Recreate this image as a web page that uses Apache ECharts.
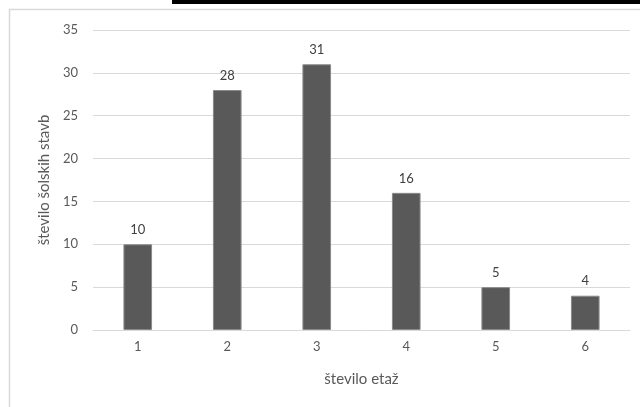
<!DOCTYPE html>
<html>
<head>
<meta charset="utf-8">
<script src="https://cdn.jsdelivr.net/npm/echarts@6/dist/echarts.min.js"></script>
<style>html,body{margin:0;padding:0;background:#fff;}#c{width:640px;height:407px;}</style>
</head>
<body>
<div id="c"></div>
<script>
const categories = ['1', '2', '3', '4', '5', '6'];
const values = [10, 28, 31, 16, 5, 4];
const yTicks = [0, 5, 10, 15, 20, 25, 30, 35];
const xAxisName = 'število etaž';
const yAxisName = 'število šolskih stavb';

const chart = echarts.init(document.getElementById('c'), null, {renderer: 'canvas'});
const font = 'Lato, "Open Sans", sans-serif';
chart.setOption({
  animation: false,
  backgroundColor: '#fff',
  graphic: [
    {type: 'rect', shape: {x: 9.5, y: 9.5, width: 640, height: 410}, style: {fill: 'none', stroke: '#d9d9d9', lineWidth: 1.5}, z: 0},
    {type: 'rect', shape: {x: 172, y: 0, width: 468, height: 4}, style: {fill: '#000'}, z: 10}
  ],
  grid: {left: 93, right: 10, top: 30, bottom: 77, containLabel: false},
  xAxis: {
    type: 'category',
    data: categories,
    name: xAxisName,
    nameLocation: 'middle',
    nameGap: 42,
    nameTextStyle: {color: '#595959', fontSize: 15, fontFamily: font},
    axisLine: {show: true, lineStyle: {color: '#d9d9d9', width: 1}},
    axisTick: {show: false},
    axisLabel: {color: '#595959', fontSize: 13, fontFamily: font, margin: 10}
  },
  yAxis: {
    type: 'value',
    min: yTicks[0],
    max: yTicks[yTicks.length - 1],
    interval: 5,
    name: yAxisName,
    nameLocation: 'middle',
    nameGap: 40,
    nameTextStyle: {color: '#595959', fontSize: 15, fontFamily: font},
    axisLine: {show: false},
    axisTick: {show: false},
    axisLabel: {color: '#595959', fontSize: 13, fontFamily: font, margin: 15},
    splitLine: {lineStyle: {color: '#d9d9d9', width: 1}}
  },
  series: [{
    type: 'bar',
    data: values,
    barCategoryGap: '68%',
    itemStyle: {color: '#595959', borderColor: '#8a8a8a', borderWidth: 1},
    label: {show: true, position: 'top', distance: 8, color: '#404040', fontSize: 13, fontFamily: font}
  }]
});
</script>
</body>
</html>
